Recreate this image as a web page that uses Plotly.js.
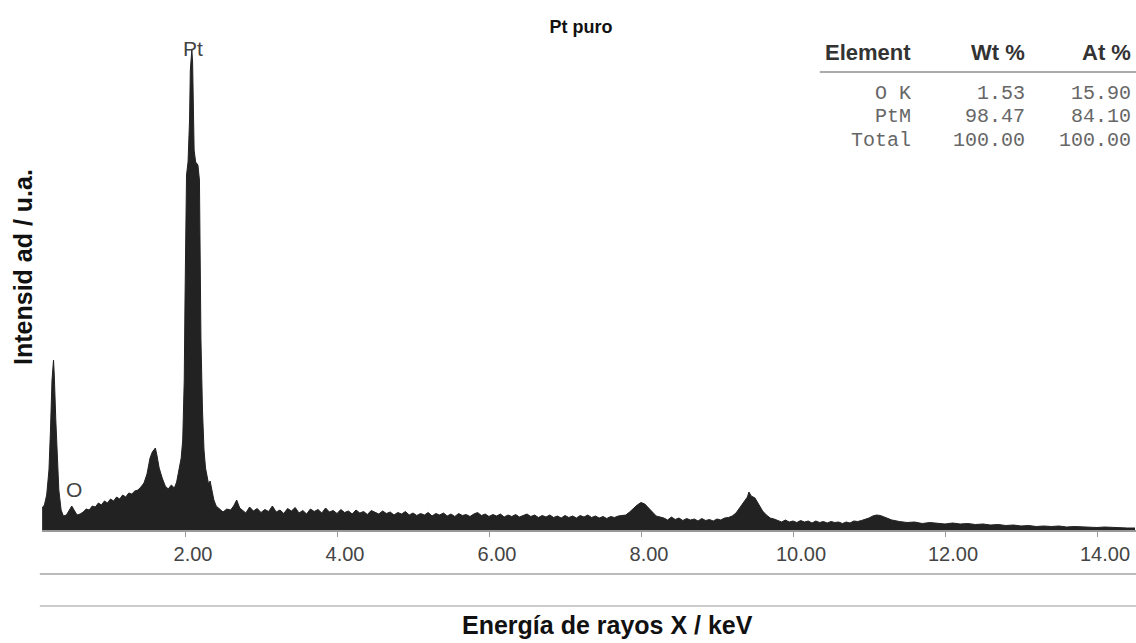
<!DOCTYPE html>
<html>
<head>
<meta charset="utf-8">
<script src="https://cdn.plot.ly/plotly-3.0.1.min.js"></script>
<style>html,body{margin:0;padding:0;background:#fff;}#chart{width:1136px;height:643px;}</style>
</head>
<body>
<div id="chart"></div>
<script>
// Energy (keV) and intensity (counts, arbitrary units)
const energy = [
  0.12,0.15,0.18,0.21,0.23,0.25,0.27,0.28,0.30,0.32,0.34,0.37,0.40,0.44,0.48,0.51,0.54,0.58,0.62,
  0.66,0.70,0.74,0.78,0.82,0.86,0.90,0.94,0.98,1.02,1.06,1.10,1.14,1.18,1.22,1.26,1.30,1.34,1.38,1.42,1.46,
  1.50,1.54,1.57,1.61,1.63,1.66,1.70,1.74,1.78,1.82,1.86,1.89,1.92,1.95,1.97,1.99,
  2.00,2.02,2.04,2.06,2.07,2.08,2.09,2.10,2.11,2.12,2.14,2.17,2.19,2.20,2.21,2.23,2.25,2.27,2.29,2.31,2.33,2.35,2.38,2.41,2.45,
  2.50,2.55,2.60,2.64,2.68,2.72,
  2.75,2.80,2.85,2.90,2.95,3.00,3.05,3.10,3.15,3.20,
  3.25,3.30,3.35,3.40,3.45,3.50,3.55,3.60,3.65,3.70,
  3.75,3.80,3.85,3.90,3.95,4.00,4.05,4.10,4.15,4.20,
  4.25,4.30,4.35,4.40,4.45,4.50,4.55,4.60,4.65,4.70,
  4.75,4.80,4.85,4.90,4.95,5.00,5.05,5.10,5.15,5.20,
  5.25,5.30,5.35,5.40,5.45,5.50,5.55,5.60,5.65,5.70,
  5.75,5.80,5.85,5.90,5.95,6.00,6.05,6.10,6.15,6.20,
  6.25,6.30,6.35,6.40,6.45,6.50,6.55,6.60,6.65,6.70,
  6.75,6.80,6.85,6.90,6.95,7.00,7.05,7.10,7.15,7.20,
  7.25,7.30,7.35,7.40,7.45,7.50,7.55,7.60,7.65,7.70,7.75,
  7.8,7.85,7.9,7.95,8.0,8.05,8.1,8.15,8.2,8.25,
  8.30,8.35,8.40,8.45,8.50,8.55,8.60,8.65,8.70,8.75,8.80,8.85,8.90,8.95,9.00,9.05,9.10,9.15,
  9.2,9.25,9.3,9.35,9.4,9.42,9.45,9.5,9.55,9.6,9.65,9.7,9.75,
  9.80,9.85,9.90,9.95,10.00,10.05,10.10,10.15,10.20,10.25,10.30,10.35,
  10.40,10.45,10.50,10.55,10.60,10.65,10.70,10.75,10.80,10.85,10.90,10.95,
  11.0,11.05,11.1,11.15,11.2,11.25,11.3,
  11.4,11.5,11.6,11.7,11.8,11.9,12.0,12.1,12.2,12.3,12.4,12.5,12.6,12.7,12.8,12.9,
  13.0,13.1,13.2,13.3,13.4,13.5,13.6,13.7,13.8,13.9,14.0,14.1,14.2,14.3,14.4,14.5
];
const intensity = [
  220,250,350,600,1000,1500,1700,1550,1100,700,400,200,140,150,200,240,200,150,160,
  180,210,200,240,230,270,250,290,270,310,290,330,310,350,330,370,360,390,400,430,470,
  560,720,780,820,750,620,520,440,410,450,420,480,600,720,900,1500,
  2300,3550,3680,4100,4600,4750,4800,4680,4350,3800,3680,3650,3500,2700,1900,1200,800,620,520,460,490,400,300,240,210,
  180,210,200,240,300,220,
  200,170,230,190,215,175,205,185,240,180,
  200,165,215,190,225,170,195,160,210,185,
  205,170,220,180,195,165,205,175,190,160,
  200,170,185,155,195,175,160,190,165,180,
  150,175,160,185,150,170,145,165,150,175,
  140,165,150,170,140,160,135,165,145,155,
  135,160,175,145,160,135,155,140,160,130,
  150,135,155,130,145,160,135,150,125,145,
  130,150,125,140,120,145,125,140,120,145,
  130,150,125,140,120,135,115,135,125,140,145,
  150,180,220,250,275,260,220,180,140,130,
  120,100,130,105,120,95,115,100,110,90,115,95,105,90,110,100,120,125,
  140,170,220,280,330,380,340,320,250,190,150,120,110,
  95,80,100,80,90,75,95,80,90,70,90,75,
  85,70,85,75,80,65,80,70,90,85,95,105,
  120,140,150,145,130,120,100,
  85,75,80,65,75,70,60,70,60,65,55,60,50,55,45,50,
  40,45,35,40,35,40,30,35,30,30,25,30,25,25,20,20
];
const tickValues = [2,4,6,8,10,12,14];
const tickLabels = ['2.00','4.00','6.00','8.00','10.00','12.00','14.00'];
const peakLabels = [{text:'Pt', e:2.10, c:4820}, {text:'O', e:0.54, c:405}];
const tableHeader = ['Element','Wt %','At %'];
const tableElements = ['O K','PtM','Total'];
const tableWt = ['1.53','98.47','100.00'];
const tableAt = ['15.90','84.10','100.00'];

const sans = 'Liberation Sans, Arial, sans-serif';
const mono = 'Liberation Mono, Courier New, monospace';

const trace = {
  x: energy, y: intensity, type: 'scatter', mode: 'lines',
  line: {color: '#222', width: 1}, fill: 'tozeroy', fillcolor: '#222',
  hoverinfo: 'x+y'
};

const colX = [0.7962, 0.9004, 0.9976];
const rowY = [0.8918, 0.8429, 0.7939];
const annotations = [];
tableHeader.forEach((h, i) => annotations.push({
  xref:'paper', yref:'paper', x: colX[i], y: 0.9735, xanchor:'right', yanchor:'middle',
  text:'<b>'+h+'</b>', showarrow:false, font:{family:sans, size:22, color:'#333'}
}));
[tableElements, tableWt, tableAt].forEach((col, i) => col.forEach((v, j) => annotations.push({
  xref:'paper', yref:'paper', x: colX[i], y: rowY[j], xanchor:'right', yanchor:'middle',
  text: v.replace(/ /g,'&nbsp;'), showarrow:false, font:{family:mono, size:20, color:'#666'}
})));
peakLabels.forEach(p => annotations.push({
  xref:'x', yref:'y', x:p.e, y:p.c, text:p.text, showarrow:false,
  xanchor:'center', yanchor:'middle', font:{family:sans, size:21, color:'#444'}
}));
annotations.push({
  xref:'paper', yref:'paper', x:-0.0174, y:0.5367, textangle:-90, xanchor:'center', yanchor:'middle',
  text:'<b>Intensid ad / u.a.</b>', showarrow:false, font:{family:sans, size:25, color:'#111'}
});
annotations.push({
  xref:'paper', yref:'paper', x:0.5165, y:-0.193, xanchor:'center', yanchor:'middle',
  text:'<b>Energía de rayos X / keV</b>', showarrow:false, font:{family:sans, size:25, color:'#111'}
});

const layout = {
  width:1136, height:643,
  margin:{l:42, r:0, t:40, b:113},
  paper_bgcolor:'#fff', plot_bgcolor:'#fff',
  showlegend:false,
  title:{text:'<b>Pt puro</b>', x:0.5114, xref:'container', y:0.958, yref:'container',
         xanchor:'center', yanchor:'middle', font:{family:sans, size:18, color:'#111'}},
  xaxis:{range:[0.1184, 14.513], tickvals:tickValues, ticktext:tickLabels,
         ticks:'outside', ticklen:5, tickcolor:'#999', tickwidth:1,
         showline:true, linecolor:'#999', linewidth:2, showgrid:false, zeroline:false,
         ticklabelshift:8, tickfont:{family:sans, size:20, color:'#444'}},
  yaxis:{range:[0, 4900], visible:false, showgrid:false, zeroline:false, fixedrange:true},
  annotations: annotations,
  shapes:[
    {type:'line', xref:'paper', yref:'paper', x0:0.711, x1:1.0, y0:0.9347, y1:0.9347, line:{color:'#aaa', width:2}},
    {type:'line', xref:'paper', yref:'paper', x0:-0.002, x1:1.0, y0:-0.0898, y1:-0.0898, line:{color:'#bbb', width:2}},
    {type:'line', xref:'paper', yref:'paper', x0:-0.002, x1:1.0, y0:-0.1551, y1:-0.1551, line:{color:'#ccc', width:2}}
  ]
};

Plotly.newPlot('chart', [trace], layout, {displayModeBar:false, staticPlot:true});
</script>
</body>
</html>
